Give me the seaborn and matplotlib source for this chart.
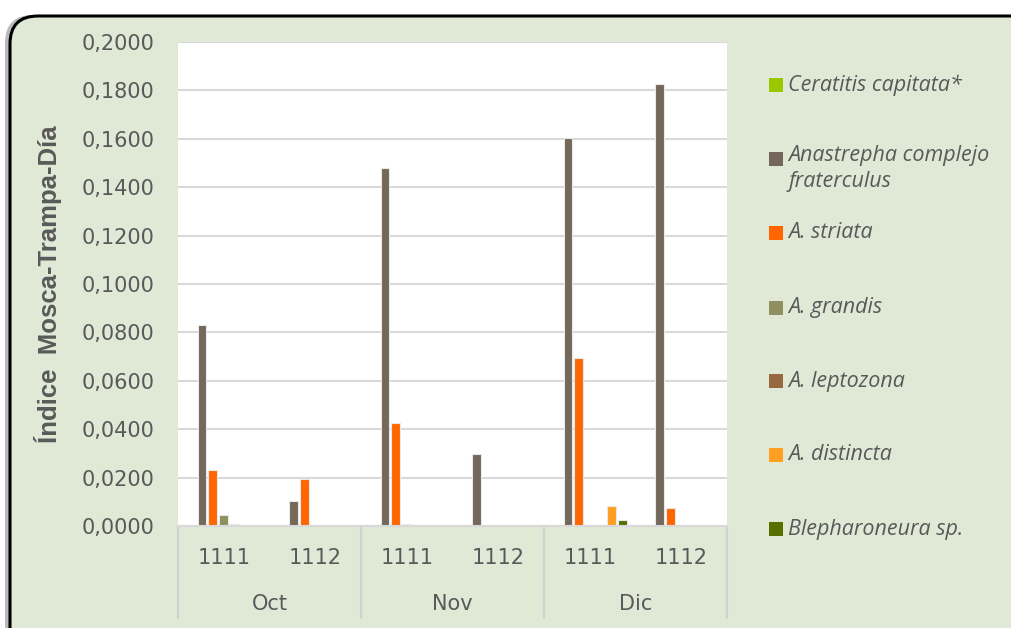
import pandas as pd
import seaborn as sns
import matplotlib.pyplot as plt
import matplotlib.patches as mpatches
import matplotlib.transforms as mtrans
from matplotlib.ticker import FuncFormatter

# chart data
months = ["Oct", "Nov", "Dic"]
traps = ["1111", "1112"]
species = ["Ceratitis capitata*", "Anastrepha complejo\nfraterculus", "A. striata",
           "A. grandis", "A. leptozona", "A. distincta", "Blepharoneura sp."]
colors = ["#99C700", "#736859", "#FF6600", "#8F8F5F", "#966941", "#FF9F22", "#567000"]

# values per species, order: Oct-1111, Oct-1112, Nov-1111, Nov-1112, Dic-1111, Dic-1112
ceratitis = [0, 0, 0, 0, 0, 0]
anastrepha = [0.0831, 0.0103, 0.1478, 0.0298, 0.1603, 0.1828]
striata = [0.0231, 0.0194, 0.0426, 0, 0.0694, 0.0074]
grandis = [0.0045, 0, 0.0008, 0, 0, 0]
leptozona = [0.0008, 0, 0, 0, 0, 0]
distincta = [0, 0, 0, 0, 0.0083, 0]
blepharoneura = [0, 0, 0, 0, 0.0025, 0]
series = [ceratitis, anastrepha, striata, grandis, leptozona, distincta, blepharoneura]

slots = [f"{m}-{t}" for m in months for t in traps]
rows = []
for sp, vals in zip(species, series):
    for slot, v in zip(slots, vals):
        rows.append({"slot": slot, "species": sp, "value": v})
df = pd.DataFrame(rows)

sns.set_style("white")
plt.rcParams['font.family'] = ['DejaVu Sans']
gray = "#595959"
bg = "#DFE9D6"

fig = plt.figure(figsize=(10.11, 6.28), dpi=100)
fig.patch.set_facecolor("white")

# rounded panel with a soft shadow (behind the axes)
shadow = mpatches.FancyBboxPatch((5, -30), 1060, 628 - 15 + 30, transform=None,
                                 boxstyle="round,pad=0,rounding_size=28",
                                 facecolor="#777777", edgecolor="none", alpha=0.5,
                                 zorder=-3)
panel = mpatches.FancyBboxPatch((10, -30), 1060, 628 - 12 + 30 - 4, transform=None,
                                boxstyle="round,pad=0,rounding_size=28",
                                facecolor=bg, edgecolor="black", linewidth=2.2,
                                zorder=-2)
fig.patches.extend([shadow, panel])

ax = fig.add_axes([178 / 1011, 102 / 628, 549 / 1011, 484 / 628])
sns.barplot(data=df, x="slot", y="value", hue="species", order=slots,
            hue_order=species, palette=colors, saturation=1, width=0.84, gap=0.22,
            edgecolor="#E8E8E8", linewidth=0.8, legend=False, ax=ax)

ax.set_facecolor("white")
ax.set_ylim(0, 0.2)
ax.set_xlim(-0.5, len(slots) - 0.5)
ax.set_yticks([i * 0.02 for i in range(11)])
ax.yaxis.set_major_formatter(FuncFormatter(lambda v, p: f"{v:.4f}".replace(".", ",")))
ax.grid(axis="y", color="#D9D9D9", linewidth=1.5)
ax.set_axisbelow(True)
for s in ["top", "right", "left"]:
    ax.spines[s].set_visible(False)
ax.spines["bottom"].set_color("#D9D9D9")
ax.spines["bottom"].set_linewidth(1.5)

ax.set_xticks(range(len(slots)))
ax.set_xticklabels([t for m in months for t in traps])
ax.tick_params(axis="both", length=0, labelsize=15, labelcolor=gray)
ax.tick_params(axis="y", pad=17)
ax.tick_params(axis="x", pad=16)
ax.set_xlabel("")
ax.set_ylabel("Índice  Mosca-Trampa-Día", fontsize=18.5, fontweight="bold",
              color=gray, family="Liberation Sans")
ax.yaxis.set_label_coords(-0.211, 0.5)

# month level labels and separators
trans = mtrans.blended_transform_factory(ax.transData, ax.transAxes)
for i, m in enumerate(months):
    ax.text(i * 2 + 0.5, -0.162, m, transform=trans, ha="center", va="center",
            fontsize=15, color=gray)
for b in [-0.5, 1.5, 3.5, 5.5]:
    ax.plot([b, b], [0, -0.19], transform=trans, color="#D0D0D0", lw=1.5,
            clip_on=False)

# legend on the right
legend_y = [85, 159, 233, 308, 381, 455, 529]
for sp, c, yc in zip(species, colors, legend_y):
    fig.patches.append(mpatches.Rectangle((769, 628 - yc - 7), 14, 14, transform=None,
                                          facecolor=c, edgecolor="none"))
    if "\n" in sp:
        fig.text(788 / 1011, (628 - yc + 14) / 628, sp, ha="left", va="top",
                 fontsize=15.5, style="italic", color=gray, family="Open Sans",
                 linespacing=1.3)
    else:
        fig.text(788 / 1011, (628 - yc) / 628, sp, ha="left", va="center",
                 fontsize=15.5, style="italic", color=gray, family="Open Sans")

fig.savefig("out.png", dpi=100)
